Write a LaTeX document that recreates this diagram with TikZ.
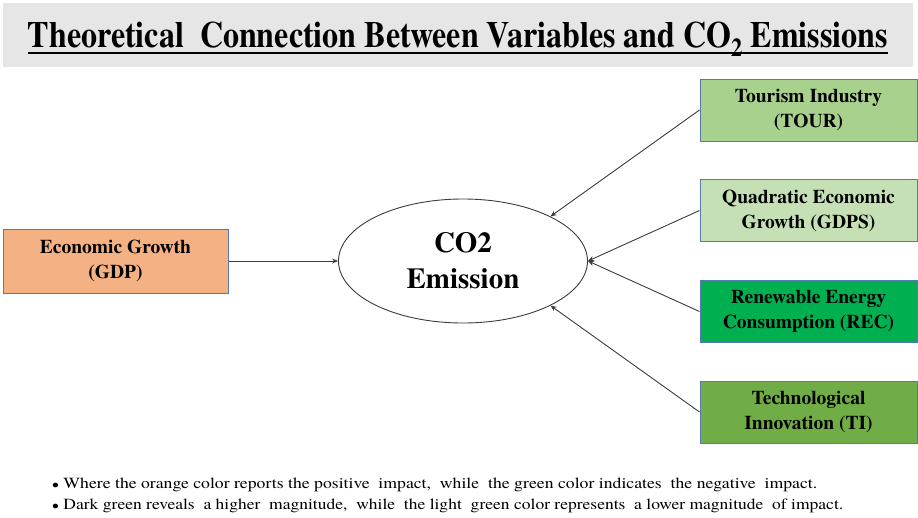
\documentclass[tikz,border=0pt]{standalone}
\usepackage{fontspec}
\setmainfont{texgyretermes}[Extension=.otf, UprightFont=*-regular, BoldFont=*-bold, ItalicFont=*-italic, BoldItalicFont=*-bolditalic]
\usetikzlibrary{shapes.geometric,arrows.meta}
\definecolor{bandgray}{HTML}{E7E6E6}
\definecolor{tourc}{HTML}{A9D18E}
\definecolor{gdpsc}{HTML}{C5E0B4}
\definecolor{recc}{HTML}{00B050}
\definecolor{tic}{HTML}{70AD47}
\definecolor{gdpc}{HTML}{F4B183}
\definecolor{boxline}{HTML}{5579B0}
\definecolor{linec}{HTML}{3C3C3C}
\tikzset{
  varbox/.style={draw=boxline, line width=1pt, minimum width=217pt, minimum height=62pt,
    inner sep=0pt, align=center, font=\fontsize{19.5}{25}\selectfont\bfseries},
  conn/.style={draw=linec, line width=0.9pt, -{Stealth[length=6pt,width=5pt]}},
  note/.style={anchor=base west, inner sep=0pt, font=\fontsize{15.5}{18}\selectfont}
}
\begin{document}
\begin{tikzpicture}[x=1pt,y=-1pt]
\useasboundingbox (0,0) rectangle (918,517);
\node[fill=bandgray, minimum width=910pt, minimum height=64pt, inner sep=0pt] (band) at (458,35) {};
\node[anchor=base, inner sep=0pt] (title) at (458,47)
  {\resizebox{860pt}{\height}{\fontsize{37}{37}\selectfont\bfseries Theoretical\ \ Connection\ Between\ Variables\ and\ CO\textsubscript{2}\ Emissions}};
\fill ([yshift=-4.5pt]title.base west) rectangle ([yshift=-7pt]title.base east);

\node[varbox, fill=tourc] (tour) at (808.5,110) {Tourism Industry\\(TOUR)};
\node[varbox, fill=gdpsc] (gdps) at (808.5,210.5) {Quadratic Economic\\Growth (GDPS)};
\node[varbox, fill=recc] (rec) at (808.5,311.5) {Renewable Energy\\Consumption (REC)};
\node[varbox, fill=tic] (ti) at (808.5,412) {Technological\\Innovation (TI)};
\node[varbox, fill=gdpc, minimum width=225pt, minimum height=64pt] (gdp) at (115.5,261) {Economic Growth\\(GDP)};

\node[ellipse, draw=linec, line width=0.9pt, fill=white, minimum width=249pt, minimum height=124pt,
  inner sep=0pt, align=center, font=\fontsize{29}{36}\selectfont\bfseries] (co2) at (463,261) {CO2\\Emission};

\draw[conn] (gdp.east) -- (co2.west);
\draw[conn] (tour.west) -- (co2.27);
\draw[conn] (gdps.west) -- (co2.east);
\draw[conn] (rec.west) -- (co2.east);
\draw[conn] (ti.west) -- (co2.-27);

\node[note] (n1) at (52,488) {\resizebox{765pt}{\height}{{\large$\bullet$} Where the orange color reports the positive\ \ impact,\ \ while\ \ the green color indicates\ \ the negative\ \ impact.}};
\node[note] (n2) at (52,509) {\resizebox{791pt}{\height}{{\large$\bullet$} Dark green reveals\ \ a higher\ \ magnitude,\ \ while\ \ the light\ \ green color represents\ \ a lower magnitude\ \ of impact.}};
\end{tikzpicture}
\end{document}
